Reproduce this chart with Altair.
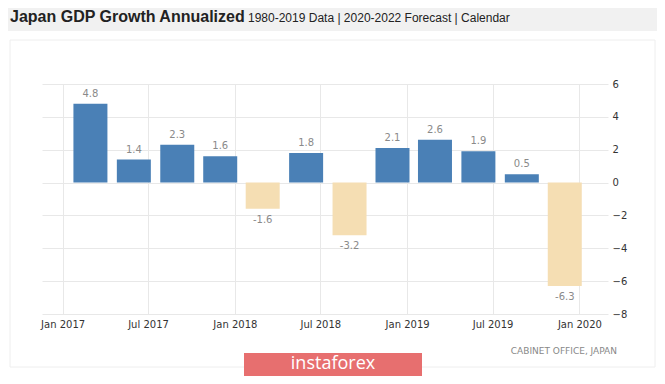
import altair as alt
import pandas as pd

dates = ["2017-03-01", "2017-06-01", "2017-09-01", "2017-12-01",
         "2018-03-01", "2018-06-01", "2018-09-01", "2018-12-01",
         "2019-03-01", "2019-06-01", "2019-09-01", "2019-12-01"]
values = [4.8, 1.4, 2.3, 1.6, -1.6, 1.8, -3.2, 2.1, 2.6, 1.9, 0.5, -6.3]
y_ticks = [-8, -6, -4, -2, 0, 2, 4, 6]
x_tick_dates = [(2017, 1), (2017, 7), (2018, 1), (2018, 7), (2019, 1), (2019, 7), (2020, 1)]

title = "Japan GDP Growth Annualized"
subtitle = "1980-2019 Data | 2020-2022 Forecast | Calendar"
source = "CABINET OFFICE, JAPAN"

df = pd.DataFrame({"date": dates, "value": values})
df["label"] = df["value"].map(lambda v: f"{v:.1f}")

W, H = 566, 230
PL, PT, PR, PB = 34, 76, 49, 62

FONT = "DejaVu Sans"

xscale = alt.Scale(type="utc",
                   domain=[alt.DateTime(year=2016, month=11, date=29, utc=True),
                           alt.DateTime(year=2020, month=2, date=20, utc=True)])
xaxis = alt.Axis(values=[alt.DateTime(year=y, month=m, date=1, utc=True) for y, m in x_tick_dates],
                 format="%b %Y", title=None, grid=True, gridColor="#e8e8e8",
                 ticks=False, domain=False, labelFont=FONT, labelFontSize=10,
                 labelColor="#333333", labelPadding=5, labelFlush=False, labelOverlap=False)
yscale = alt.Scale(domain=[-8, 6], nice=False, zero=False)
yaxis = alt.Axis(values=y_ticks, orient="right", title=None, grid=True, gridColor="#e8e8e8",
                 ticks=False, domain=False, labelFont=FONT, labelFontSize=10,
                 labelColor="#333333", labelPadding=4, labelOverlap=False)

base = alt.Chart(df)

bars = base.mark_bar(size=34).encode(
    x=alt.X("date:T", scale=xscale, axis=xaxis),
    y=alt.Y("value:Q", scale=yscale, axis=yaxis),
    color=alt.condition("datum.value >= 0", alt.value("#4a80b6"), alt.value("#f5deb3")),
)

pos_labels = base.transform_filter("datum.value >= 0").mark_text(
    baseline="bottom", dy=-5, font=FONT, fontSize=10, color="#8a8a8a"
).encode(x=alt.X("date:T", scale=xscale, axis=xaxis),
         y=alt.Y("value:Q", scale=yscale, axis=yaxis), text="label:N")

neg_labels = base.transform_filter("datum.value < 0").mark_text(
    baseline="top", dy=6, font=FONT, fontSize=10, color="#8a8a8a"
).encode(x=alt.X("date:T", scale=xscale, axis=xaxis),
         y=alt.Y("value:Q", scale=yscale, axis=yaxis), text="label:N")

deco = pd.DataFrame({"k": [0]})
dc = alt.Chart(deco)

header = dc.mark_rect(color="#f1f1f1").encode(
    x=alt.value(-PL), x2=alt.value(W + PR), y=alt.value(-PT), y2=alt.value(-53))
card = dc.mark_rect(fill="transparent", stroke="#eeeeee", strokeWidth=1).encode(
    x=alt.value(-32), x2=alt.value(613), y=alt.value(-44), y2=alt.value(283))
title_t = dc.mark_text(align="left", baseline="middle", font="Liberation Sans",
                       fontSize=16, fontWeight="bold", color="#222222").encode(
    x=alt.value(-32), y=alt.value(-67), text=alt.value(title))
sub_t = dc.mark_text(align="left", baseline="middle", font="Liberation Sans",
                     fontSize=12, color="#222222").encode(
    x=alt.value(206), y=alt.value(-66), text=alt.value(subtitle))
source_t = dc.mark_text(align="right", baseline="middle", font=FONT,
                        fontSize=9, color="#888888").encode(
    x=alt.value(575), y=alt.value(267), text=alt.value(source))
wm_rect = dc.mark_rect(color="#e76f6f").encode(
    x=alt.value(202), x2=alt.value(380), y=alt.value(269), y2=alt.value(292))
wm_text = dc.mark_text(align="center", baseline="middle", font="Open Sans",
                       fontSize=18, color="white").encode(
    x=alt.value(291), y=alt.value(280), text=alt.value("instaforex"))

chart = alt.layer(
    header, card, bars, pos_labels, neg_labels, title_t, sub_t, source_t, wm_rect, wm_text
).properties(
    width=W, height=H,
    autosize=alt.AutoSizeParams(type="none"),
    padding={"left": PL, "top": PT, "right": PR, "bottom": PB},
).configure_view(stroke=None)

chart.save("out.html", embed_options={"renderer": "svg", "actions": False})
